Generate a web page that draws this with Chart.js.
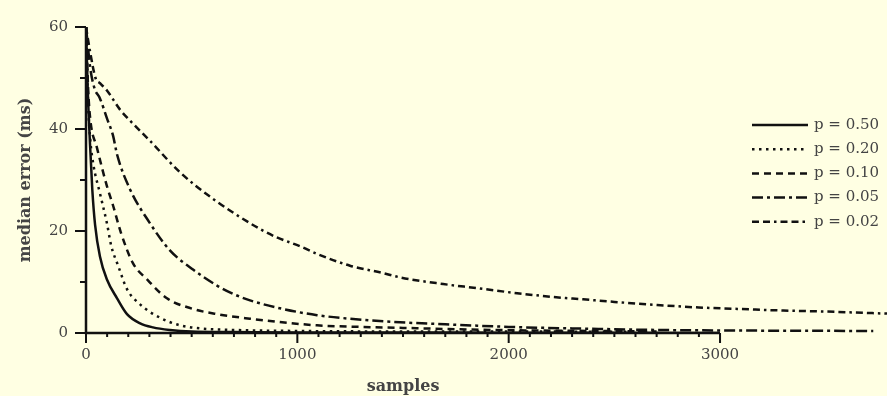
<!DOCTYPE html>
<html>
<head>
<meta charset="utf-8">
<script src="https://cdn.jsdelivr.net/npm/chart.js@4.4.1/dist/chart.umd.min.js"></script>
<style>
  body { margin: 0; background: #FFFFE3; }
  canvas { display: block; }
</style>
</head>
<body>
<canvas id="errorChart" width="887" height="396"></canvas>
<script>
// Axis ticks
const xTickValues = [0, 1000, 2000, 3000];
const yTickValues = [0, 20, 40, 60];
const xAxisEnd = 3000;

const seriesLabels = ['p = 0.50', 'p = 0.20', 'p = 0.10', 'p = 0.05', 'p = 0.02'];

// median error (ms), per series
const p050Samples = [0, 8, 19, 30, 43, 66, 99, 147, 194, 256, 317, 397, 500, 700, 1000, 1500, 2000, 2500, 3000];
const p050Error = [60, 48, 37, 28, 21.2, 15, 10.5, 6.8, 3.7, 1.9, 1.1, 0.6, 0.3, 0.2, 0.1, 0.1, 0.05, 0.05, 0];

const p020Samples = [0, 10, 20, 35, 66, 99, 120, 152, 194, 256, 350, 445, 540, 700, 1000, 1500, 2000, 2700];
const p020Error = [60, 45, 38, 33, 27.4, 21.5, 17, 13.2, 8.6, 5.6, 3.0, 1.5, 0.9, 0.6, 0.4, 0.3, 0.3, 0.2];

const p010Samples = [0, 10, 20, 52, 99, 128, 165, 222, 289, 383, 508, 620, 776, 950, 1093, 1300, 1500, 1800, 2100, 2400, 2700];
const p010Error = [60, 48, 42, 36.3, 28.8, 25, 19.7, 13.7, 10.5, 6.8, 4.7, 3.7, 2.8, 2.0, 1.5, 1.2, 1.0, 0.7, 0.5, 0.4, 0.3];

const p005Samples = [0, 20, 40, 66, 100, 128, 147, 208, 303, 397, 508, 620, 700, 776, 933, 1093, 1249, 1486, 1700, 2000, 2300, 2700, 3000, 3725];
const p005Error = [60, 52, 48, 46, 42, 38.7, 35, 28.2, 21.5, 16.2, 12.4, 9.3, 7.6, 6.4, 4.7, 3.5, 2.8, 2.1, 1.7, 1.2, 0.9, 0.6, 0.5, 0.4];

const p002Samples = [0, 20, 45, 66, 100, 161, 200, 300, 445, 601, 700, 823, 900, 1013, 1100, 1249, 1400, 1486, 1690, 1850, 2040, 2200, 2352, 2500, 2702, 2900, 3100, 3300, 3507, 3790];
const p002Error = [60, 55, 50, 49, 47.5, 43.8, 42, 37.8, 31.5, 26.3, 23.5, 20.4, 18.8, 17.0, 15.4, 13.2, 11.8, 10.9, 9.6, 8.8, 7.8, 7.1, 6.6, 6.1, 5.5, 5.0, 4.7, 4.4, 4.2, 3.8];

const seriesSamples = [p050Samples, p020Samples, p010Samples, p005Samples, p002Samples];
const seriesError = [p050Error, p020Error, p010Error, p005Error, p002Error];
const seriesDash = [[], [2.5, 4.5], [7, 5], [11, 4, 3, 4], [7, 4, 7, 4, 2.5, 4]];

const ink = '#111';
const labelColor = '#444';
const serif = 'DejaVu Serif';

function toPoints(xs, ys) {
    return xs.map(function(x, i) { return { x: x, y: ys[i] }; });
}

// axis lines, tick marks, legend and x title drawn with the chart's own scales
const axesPlugin = {
    id: 'axesPlugin',
    afterDatasetsDraw(chart) {
        const ctx = chart.ctx;
        const xs = chart.scales.x, ys = chart.scales.y;
        const x0 = xs.getPixelForValue(0), y0 = ys.getPixelForValue(0);
        ctx.save();
        ctx.strokeStyle = ink;
        ctx.lineWidth = 2.5;
        ctx.beginPath();
        ctx.moveTo(x0, ys.getPixelForValue(60));
        ctx.lineTo(x0, y0);
        ctx.lineTo(xs.getPixelForValue(xAxisEnd), y0);
        ctx.stroke();

        ctx.lineWidth = 2;
        ctx.beginPath();
        for (let v = 0; v <= xAxisEnd; v += 100) {
            const px = xs.getPixelForValue(v);
            ctx.moveTo(px, y0);
            ctx.lineTo(px, y0 + (v % 1000 === 0 ? 10 : 4));
        }
        for (let v = 0; v <= 60; v += 10) {
            const py = ys.getPixelForValue(v);
            ctx.moveTo(x0, py);
            ctx.lineTo(x0 - (v % 20 === 0 ? 11 : 6), py);
        }
        ctx.stroke();

        // x axis title centred under the drawn axis
        ctx.fillStyle = labelColor;
        ctx.font = 'bold 16px "' + serif + '"';
        ctx.textAlign = 'center';
        ctx.textBaseline = 'middle';
        ctx.fillText('samples', (x0 + xs.getPixelForValue(xAxisEnd)) / 2, 387);

        // legend
        ctx.font = '15px "' + serif + '"';
        ctx.textAlign = 'left';
        chart.data.datasets.forEach(function(ds, i) {
            const ly = 125 + i * 24.2;
            ctx.strokeStyle = ink;
            ctx.lineWidth = 2.5;
            ctx.setLineDash(ds.borderDash);
            ctx.beginPath();
            ctx.moveTo(752, ly);
            ctx.lineTo(808, ly);
            ctx.stroke();
            ctx.setLineDash([]);
            ctx.fillStyle = labelColor;
            ctx.fillText(ds.label, 814, ly);
        });
        ctx.restore();
    }
};

const ctx = document.getElementById('errorChart').getContext('2d');
const errorChart = new Chart(ctx, {
    type: 'line',
    data: {
        datasets: seriesLabels.map(function(label, i) {
            return {
                label: label,
                data: toPoints(seriesSamples[i], seriesError[i]),
                borderColor: ink,
                borderWidth: 2.5,
                borderDash: seriesDash[i],
                pointRadius: 0,
                fill: false,
                cubicInterpolationMode: 'monotone'
            };
        })
    },
    options: {
        responsive: false,
        animation: false,
        devicePixelRatio: 1,
        layout: { padding: { top: 14, right: 0, left: 0, bottom: 0 } },
        plugins: {
            legend: { display: false },
            tooltip: { enabled: false }
        },
        scales: {
            x: {
                type: 'linear',
                min: 0,
                max: 3790,
                afterFit: function(s) { s.height = 63; },
                afterBuildTicks: function(s) { s.ticks = xTickValues.map(function(v) { return { value: v }; }); },
                ticks: {
                    color: labelColor,
                    font: { family: serif, size: 15 },
                    padding: 13,
                    maxRotation: 0,
                    autoSkip: false,
                    callback: function(value) { return String(value); }
                },
                grid: { display: false, drawTicks: false },
                border: { display: false }
            },
            y: {
                min: 0,
                max: 60,
                afterFit: function(s) { s.width = 86; },
                afterBuildTicks: function(s) { s.ticks = yTickValues.map(function(v) { return { value: v }; }); },
                ticks: {
                    color: labelColor,
                    font: { family: serif, size: 15 },
                    padding: 18,
                    callback: function(value) { return String(value); }
                },
                title: {
                    display: true,
                    text: 'median error (ms)',
                    color: labelColor,
                    font: { family: serif, size: 16, weight: 'bold' },
                    padding: { top: 16, bottom: 0 }
                },
                grid: { display: false, drawTicks: false },
                border: { display: false }
            }
        }
    },
    plugins: [axesPlugin]
});
</script>
</body>
</html>
